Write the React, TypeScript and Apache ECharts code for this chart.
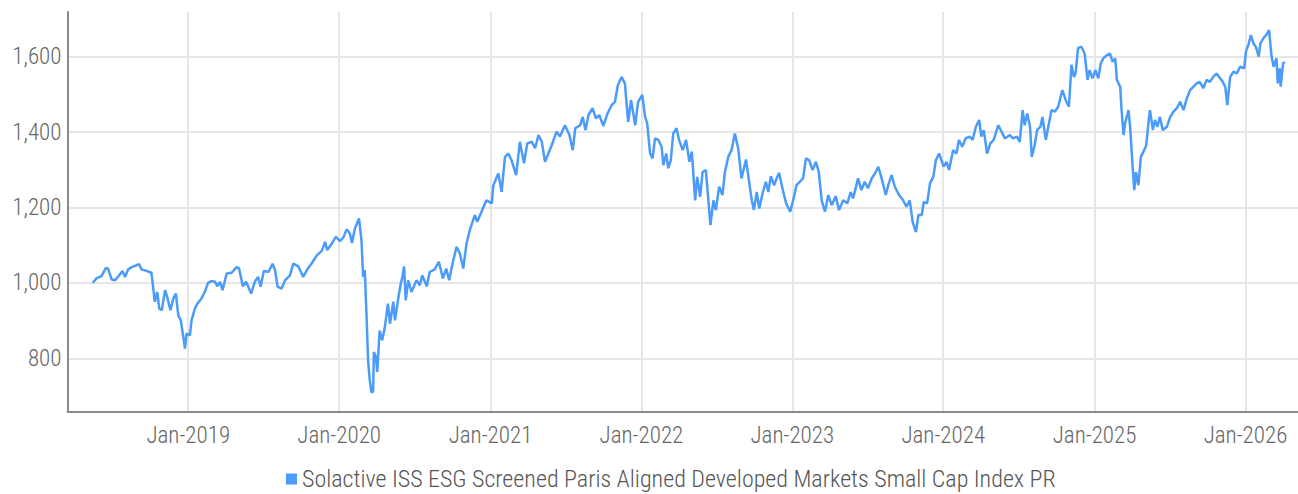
import React, { useEffect, useRef } from "react";
import * as echarts from "echarts";

const seriesName =
  "Solactive ISS ESG Screened Paris Aligned Developed Markets Small Cap Index PR";

const dates: string[] = [
  "2018-05-15","2018-05-24","2018-06-05","2018-06-16","2018-06-21","2018-06-30","2018-07-08","2018-07-20","2018-07-26","2018-08-01",
  "2018-08-09","2018-08-17","2018-08-29","2018-09-04","2018-09-10","2018-09-22","2018-10-04","2018-10-08","2018-10-12","2018-10-18",
  "2018-10-23","2018-10-29","2018-11-06","2018-11-11","2018-11-19","2018-11-26","2018-12-02","2018-12-08","2018-12-14","2018-12-20",
  "2018-12-24","2018-12-28","2019-01-05","2019-01-09","2019-01-17","2019-01-23","2019-02-02","2019-02-10","2019-02-18","2019-02-26",
  "2019-03-07","2019-03-12","2019-03-19","2019-03-25","2019-04-04","2019-04-16","2019-04-28","2019-05-04","2019-05-13","2019-05-21",
  "2019-06-02","2019-06-11","2019-06-19","2019-06-25","2019-07-03","2019-07-14","2019-07-24","2019-07-30","2019-08-05","2019-08-15",
  "2019-08-23","2019-09-04","2019-09-12","2019-09-24","2019-10-06","2019-10-16","2019-10-26","2019-11-08","2019-11-20","2019-11-28",
  "2019-12-03","2019-12-14","2019-12-24","2020-01-03","2020-01-12","2020-01-19","2020-01-27","2020-02-01","2020-02-08","2020-02-18",
  "2020-02-24","2020-02-28","2020-03-03","2020-03-07","2020-03-11","2020-03-15","2020-03-19","2020-03-23","2020-03-25","2020-03-30",
  "2020-04-02","2020-04-08","2020-04-14","2020-04-20","2020-04-28","2020-05-03","2020-05-11","2020-05-15","2020-05-23","2020-05-29",
  "2020-06-02","2020-06-06","2020-06-10","2020-06-16","2020-06-24","2020-07-06","2020-07-14","2020-07-20","2020-07-31","2020-08-07",
  "2020-08-19","2020-08-29","2020-09-08","2020-09-16","2020-09-23","2020-10-03","2020-10-11","2020-10-19","2020-10-27","2020-11-04",
  "2020-11-12","2020-11-24","2020-11-30","2020-12-10","2020-12-22","2021-01-04","2021-01-08","2021-01-20","2021-01-28","2021-02-05",
  "2021-02-13","2021-02-21","2021-03-04","2021-03-13","2021-03-23","2021-03-31","2021-04-11","2021-04-19","2021-04-27","2021-05-05",
  "2021-05-13","2021-05-21","2021-05-29","2021-06-10","2021-06-18","2021-06-30","2021-07-11","2021-07-19","2021-07-25","2021-08-06",
  "2021-08-12","2021-08-19","2021-08-26","2021-09-05","2021-09-13","2021-09-21","2021-10-01","2021-10-11","2021-10-21","2021-10-29",
  "2021-11-05","2021-11-14","2021-11-22","2021-11-30","2021-12-07","2021-12-17","2021-12-24","2022-01-03","2022-01-10","2022-01-15",
  "2022-01-22","2022-01-28","2022-02-03","2022-02-11","2022-02-19","2022-02-23","2022-03-02","2022-03-07","2022-03-13","2022-03-19",
  "2022-03-27","2022-04-02","2022-04-11","2022-04-19","2022-04-27","2022-05-03","2022-05-11","2022-05-16","2022-05-23","2022-05-29",
  "2022-06-06","2022-06-12","2022-06-17","2022-06-24","2022-06-30","2022-07-08","2022-07-16","2022-07-22","2022-07-30","2022-08-07",
  "2022-08-15","2022-08-23","2022-08-31","2022-09-11","2022-09-19","2022-09-25","2022-09-30","2022-10-07","2022-10-13","2022-10-21",
  "2022-10-29","2022-11-04","2022-11-10","2022-11-18","2022-11-24","2022-11-30","2022-12-09","2022-12-17","2022-12-27","2023-01-03",
  "2023-01-11","2023-01-19","2023-01-27","2023-02-03","2023-02-11","2023-02-19","2023-02-27","2023-03-06","2023-03-13","2023-03-21",
  "2023-03-29","2023-04-06","2023-04-16","2023-04-24","2023-05-04","2023-05-14","2023-05-22","2023-05-28","2023-06-09","2023-06-17",
  "2023-06-25","2023-07-03","2023-07-12","2023-07-20","2023-07-28","2023-08-05","2023-08-15","2023-08-21","2023-08-29","2023-09-06",
  "2023-09-16","2023-09-26","2023-10-04","2023-10-12","2023-10-19","2023-10-27","2023-11-02","2023-11-10","2023-11-15","2023-11-23",
  "2023-11-30","2023-12-08","2023-12-14","2023-12-22","2024-01-02","2024-01-09","2024-01-15","2024-01-25","2024-02-02","2024-02-08",
  "2024-02-16","2024-02-24","2024-03-05","2024-03-12","2024-03-20","2024-03-28","2024-04-02","2024-04-08","2024-04-16","2024-04-24",
  "2024-05-02","2024-05-13","2024-05-21","2024-05-29","2024-06-10","2024-06-18","2024-06-27","2024-07-04","2024-07-11","2024-07-16",
  "2024-07-22","2024-07-29","2024-08-02","2024-08-09","2024-08-15","2024-08-23","2024-08-28","2024-09-05","2024-09-11","2024-09-19",
  "2024-09-27","2024-10-05","2024-10-15","2024-10-23","2024-10-31","2024-11-06","2024-11-12","2024-11-16","2024-11-22","2024-11-30",
  "2024-12-08","2024-12-15","2024-12-20","2024-12-27","2025-01-03","2025-01-10","2025-01-16","2025-01-22","2025-01-31","2025-02-07",
  "2025-02-14","2025-02-20","2025-02-24","2025-03-04","2025-03-07","2025-03-12","2025-03-16","2025-03-24","2025-03-28","2025-04-03",
  "2025-04-07","2025-04-11","2025-04-17","2025-04-23","2025-05-01","2025-05-06","2025-05-12","2025-05-15","2025-05-22","2025-05-27",
  "2025-06-02","2025-06-08","2025-06-15","2025-06-25","2025-07-03","2025-07-11","2025-07-19","2025-07-27","2025-08-04","2025-08-12",
  "2025-08-20","2025-08-28","2025-09-05","2025-09-12","2025-09-21","2025-09-29","2025-10-07","2025-10-15","2025-10-23","2025-11-01",
  "2025-11-07","2025-11-13","2025-11-18","2025-11-25","2025-12-03","2025-12-11","2025-12-19","2025-12-29","2026-01-02","2026-01-08",
  "2026-01-14","2026-01-20","2026-01-26","2026-02-02","2026-02-06","2026-02-13","2026-02-20","2026-02-27","2026-03-05","2026-03-10",
  "2026-03-17","2026-03-20","2026-03-25","2026-03-27","2026-04-02","2026-04-06",
];

const values: number[] = [
  1000,1012,1018,1040,1038,1009,1007,1023,1032,1016,
  1036,1042,1047,1050,1036,1032,1027,990,950,976,
  932,928,981,963,928,959,972,914,901,857,
  826,866,861,901,932,945,959,976,1000,1005,
  1003,991,1003,981,1025,1027,1042,1038,991,1003,
  972,1003,1016,990,1032,1029,1051,1034,990,985,
  1007,1020,1051,1044,1016,1036,1051,1073,1085,1109,
  1087,1104,1122,1111,1122,1142,1131,1106,1144,1171,
  1113,1016,1034,919,795,742,711,711,817,804,
  764,874,848,879,945,892,950,901,959,998,
  1016,1044,954,1007,976,1007,994,1020,991,1029,
  1036,1056,1012,1038,1007,1060,1096,1078,1038,1104,
  1140,1180,1162,1188,1219,1211,1259,1290,1241,1334,
  1343,1325,1286,1374,1317,1370,1374,1357,1392,1374,
  1321,1343,1365,1401,1388,1418,1392,1352,1410,1418,
  1440,1405,1445,1463,1436,1445,1416,1449,1471,1480,
  1524,1546,1529,1427,1485,1418,1480,1498,1440,1423,
  1343,1330,1383,1379,1361,1312,1343,1304,1325,1396,
  1410,1379,1352,1379,1321,1348,1219,1281,1228,1294,
  1299,1219,1153,1219,1193,1255,1233,1294,1334,1352,
  1396,1357,1277,1327,1264,1219,1193,1241,1197,1237,
  1268,1241,1283,1259,1277,1292,1246,1211,1189,1219,
  1259,1268,1277,1330,1325,1299,1321,1294,1219,1189,
  1233,1206,1230,1193,1219,1211,1241,1224,1277,1246,
  1268,1251,1277,1290,1308,1277,1233,1259,1286,1255,
  1233,1219,1202,1219,1162,1135,1180,1180,1215,1211,
  1264,1281,1325,1343,1308,1321,1299,1352,1343,1379,
  1361,1383,1388,1379,1414,1432,1388,1405,1343,1370,
  1379,1418,1401,1383,1392,1383,1388,1374,1458,1418,
  1449,1414,1334,1365,1405,1414,1440,1379,1414,1458,
  1454,1467,1511,1485,1467,1578,1546,1555,1622,1626,
  1608,1538,1564,1542,1564,1542,1582,1595,1604,1608,
  1586,1595,1538,1520,1463,1392,1423,1458,1414,1308,
  1246,1294,1259,1334,1352,1365,1432,1458,1405,1432,
  1414,1440,1405,1414,1440,1454,1463,1480,1458,1489,
  1511,1520,1529,1533,1516,1538,1533,1546,1555,1542,
  1533,1520,1471,1546,1560,1555,1573,1569,1613,1631,
  1657,1635,1626,1600,1635,1648,1657,1670,1600,1573,
  1595,1529,1569,1520,1582,1586,
];

const yTickValues: number[] = [800, 1000, 1200, 1400, 1600];
const xTickYears: number[] = [2019, 2020, 2021, 2022, 2023, 2024, 2025, 2026];
const xRange: string[] = ["2018-03-15", "2026-05-08"];
const yRange: number[] = [658, 1718];

const toTime = (s: string): number => {
  const [y, m, d] = s.split("-").map(Number);
  return new Date(y, m - 1, d).getTime();
};

export default function App() {
  const ref = useRef<HTMLDivElement>(null);

  useEffect(() => {
    if (!ref.current) return;
    const chart = echarts.init(ref.current, undefined, { renderer: "svg" });
    const font = "'Roboto Condensed', 'DejaVu Sans Condensed', 'Liberation Sans Narrow', sans-serif";
    const xTicks = xTickYears.map((y) => new Date(y, 0, 1).getTime());
    const lineColor = "#4b9bfa";

    chart.setOption({
      animation: false,
      grid: { left: 67.5, right: 0, top: 12, bottom: 82 },
      legend: {
        show: true,
        left: 286,
        top: 467,
        padding: 0,
        icon: "rect",
        itemWidth: 11,
        itemHeight: 11,
        textStyle: { fontSize: 24, color: "#555", fontFamily: font, fontWeight: 300 },
        data: [seriesName],
      },
      xAxis: {
        type: "value",
        min: toTime(xRange[0]),
        max: toTime(xRange[1]),
        axisLine: { show: true, lineStyle: { color: "#8a8a8a", width: 2 } },
        axisTick: { show: false, customValues: xTicks },
        axisLabel: {
          customValues: xTicks,
          formatter: (v: number) => "Jan-" + new Date(v).getFullYear(),
          color: "#666",
          fontSize: 23,
          fontFamily: font,
          fontWeight: 300,
          margin: 12,
        },
        splitLine: { show: true, lineStyle: { color: "#e6e6e6", width: 2 } },
      },
      yAxis: {
        type: "value",
        min: yRange[0],
        max: yRange[1],
        axisLine: { show: true, lineStyle: { color: "#8a8a8a", width: 2 } },
        axisTick: { show: false, customValues: yTickValues },
        axisLabel: {
          customValues: yTickValues,
          formatter: (v: number) => v.toLocaleString("en-US"),
          color: "#666",
          fontSize: 23,
          fontFamily: font,
          fontWeight: 300,
          margin: 6,
        },
        splitLine: { show: true, lineStyle: { color: "#e6e6e6", width: 2 } },
      },
      series: [
        {
          name: seriesName,
          type: "line",
          showSymbol: false,
          symbol: "none",
          color: lineColor,
          lineStyle: { color: lineColor, width: 2.5 },
          data: dates.map((d, i) => [toTime(d), values[i]]),
        },
      ],
    });

    return () => chart.dispose();
  }, []);

  return (
    <div
      ref={ref}
      style={{ position: "fixed", left: 0, top: 0, width: 1298, height: 494, background: "#fff" }}
    />
  );
}
